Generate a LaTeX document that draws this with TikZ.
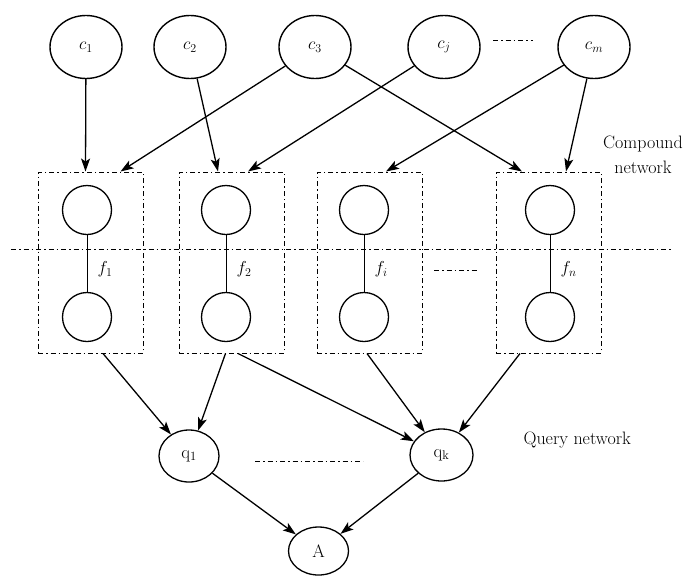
\documentclass[tikz,border=0pt]{standalone}
\usepackage{amsmath}
\usepackage{tikz}
\usetikzlibrary{shapes.geometric,arrows.meta}

\begin{document}
\begin{tikzpicture}[x=1pt,y=1pt,font=\fontsize{18}{25}\selectfont,
cnode/.style={draw,ellipse,line width=1.4pt,minimum width=72pt,minimum height=63pt,inner sep=0pt},
fnode/.style={draw,circle,line width=1.3pt,minimum size=49pt,inner sep=0pt},
qnode/.style={draw,ellipse,line width=1.3pt,minimum width=60pt,minimum height=52pt,inner sep=0pt},
fbox/.style={draw,rectangle,line width=1pt,dash pattern=on 5pt off 3pt on 1.5pt off 3pt,minimum width=105pt,minimum height=181pt},
dashdot/.style={line width=1pt,dash pattern=on 5pt off 3pt on 1.5pt off 3pt},
arr/.style={line width=1.3pt,-{Stealth[length=13pt,width=9pt,inset=3pt]}}]
\useasboundingbox (0,0) rectangle (687,-576);
\node [cnode] (c1) at (86,-47) {$c_1$};
\node [cnode] (c2) at (190,-47) {$c_2$};
\node [cnode] (c3) at (315,-47) {$c_3$};
\node [cnode] (cj) at (444,-47) {$c_j$};
\node [cnode] (cm) at (594,-47) {$c_m$};
\draw [dashdot] (493,-40) -- (533,-40);
\node [fbox] (b1) at (90.5,-262.5) {};
\node [fbox] (b2) at (231.5,-262.5) {};
\node [fbox] (b3) at (369.5,-262.5) {};
\node [fbox] (b4) at (548.5,-262.5) {};
\node [fnode] (t1) at (87,-210) {};
\node [fnode] (u1) at (87,-317) {};
\node [fnode] (t2) at (226,-210) {};
\node [fnode] (u2) at (226,-317) {};
\node [fnode] (t3) at (364,-210) {};
\node [fnode] (u3) at (364,-317) {};
\node [fnode] (t4) at (550,-210) {};
\node [fnode] (u4) at (550,-317) {};
\draw [line width=0.8pt] (t1) -- node [right=7pt,yshift=-6pt] {$f_1$} (u1);
\draw [line width=0.8pt] (t2) -- node [right=7pt,yshift=-6pt] {$f_2$} (u2);
\draw [line width=0.8pt] (t3) -- node [right=7pt,yshift=-6pt] {$f_i$} (u3);
\draw [line width=0.8pt] (t4) -- node [right=7pt,yshift=-6pt] {$f_n$} (u4);
\draw [dashdot] (434,-270) -- (478,-270);
\draw [dashdot] (11,-249) -- (673,-249);
\node [align=center] (cn) at (643,-155) {Compound\\network};
\draw [arr] (c1) -- ([xshift=-5pt]b1.north);
\draw [arr] (c3) -- ([xshift=30pt]b1.north);
\draw [arr] (c2) -- ([xshift=-13.5pt]b2.north);
\draw [arr] (cj) -- ([xshift=16.5pt]b2.north);
\draw [arr] (cm) -- ([xshift=16.5pt]b3.north);
\draw [arr] (c3) -- ([xshift=-26.5pt]b4.north);
\draw [arr] (cm) -- ([xshift=17.5pt]b4.north);
\node [qnode] (q1) at (189,-456) {q\textsubscript{1}};
\node [qnode,minimum width=63pt] (qk) at (441.5,-455) {q\textsubscript{k}};
\node [qnode,minimum height=48pt] (a) at (318.5,-551) {A};
\draw [dashdot] (255,-461) -- (363,-461);
\node [anchor=west] (qn) at (520,-440) {Query network};
\draw [arr] ([xshift=12.5pt]b1.south) -- (q1);
\draw [arr] ([xshift=-6pt]b2.south) -- (q1);
\draw [arr] ([xshift=6.5pt]b2.south) -- (qk);
\draw [arr] ([xshift=-2.5pt]b3.south) -- (qk);
\draw [arr] ([xshift=-28.5pt]b4.south) -- (qk);
\draw [arr] (q1) -- (a);
\draw [arr] (qk) -- (a);
\end{tikzpicture}
\end{document}
